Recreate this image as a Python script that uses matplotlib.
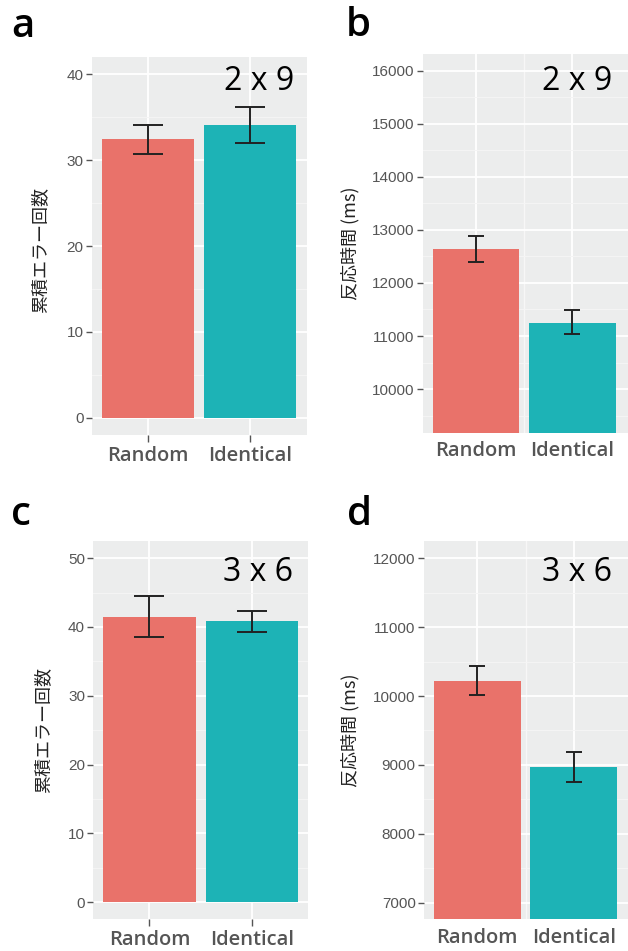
import matplotlib
matplotlib.use('Agg')
import matplotlib.pyplot as plt
from matplotlib.ticker import MultipleLocator
import numpy as np

categories = ['Random', 'Identical']
bar_colors = ['#E9726A', '#1DB3B6']

# panel a: 2 x 9 cumulative errors
err_2x9 = [32.4, 34.1]
err_2x9_lo = [30.7, 32.0]
err_2x9_hi = [34.1, 36.2]
# panel b: 2 x 9 reaction time (ms)
rt_2x9 = [12640, 11250]
rt_2x9_lo = [12400, 11030]
rt_2x9_hi = [12880, 11490]
# panel c: 3 x 6 cumulative errors
err_3x6 = [41.5, 40.8]
err_3x6_lo = [38.5, 39.3]
err_3x6_hi = [44.5, 42.3]
# panel d: 3 x 6 reaction time (ms)
rt_3x6 = [10220, 8965]
rt_3x6_lo = [10010, 8755]
rt_3x6_hi = [10435, 9190]

W, H = 628, 951
fig = plt.figure(figsize=(W / 100, H / 100), dpi=100)

def fx(px):
    return px / W

def fy(py):
    return 1 - py / H

panels = [
    dict(letter='a', vals=err_2x9, lo=err_2x9_lo, hi=err_2x9_hi,
         box=(92, 57, 307, 435), ylim=(-2.0, 42.0), xlim=(0.45, 2.56),
         major=10, minor=5, xticks=True, cap=11, ylabel='累積エラー回数',
         ylab_xy=(40, 250), letter_xy=(11, 37), ann='2 x 9', ann_xy=(294, 90),
         vminor=False),
    dict(letter='b', vals=rt_2x9, lo=rt_2x9_lo, hi=rt_2x9_hi,
         box=(422.7, 54.3, 628, 432.7), ylim=(9176, 16314), xlim=(0.442, 2.58),
         major=1000, minor=500, xticks=False, cap=5.5, ylabel='反応時間 (ms)',
         ylab_xy=(350, 243), letter_xy=(346, 36), ann='2 x 9', ann_xy=(612, 90),
         vminor=True),
    dict(letter='c', vals=err_3x6, lo=err_3x6_lo, hi=err_3x6_hi,
         box=(93.3, 541, 308, 919.3), ylim=(-2.5, 52.5), xlim=(0.453, 2.543),
         major=10, minor=5, xticks=True, cap=11, ylabel='累積エラー回数',
         ylab_xy=(43.5, 730), letter_xy=(11, 525), ann='3 x 6', ann_xy=(293, 581),
         vminor=False),
    dict(letter='d', vals=rt_3x6, lo=rt_3x6_lo, hi=rt_3x6_hi,
         box=(424, 541, 628, 919.3), ylim=(6758, 12252), xlim=(0.448, 2.56),
         major=1000, minor=500, xticks=False, cap=5.5, ylabel='反応時間 (ms)',
         ylab_xy=(350, 730), letter_xy=(347, 525), ann='3 x 6', ann_xy=(612, 581),
         vminor=True),
]

x = np.array([1, 2])
for p in panels:
    l, t, r, b = p['box']
    ax = fig.add_axes([fx(l), fy(b), fx(r) - fx(l), (b - t) / H])
    ax.set_facecolor('#ECEDED')
    for s in ax.spines.values():
        s.set_visible(False)
    ax.set_xlim(*p['xlim'])
    ax.set_ylim(*p['ylim'])
    ax.yaxis.set_major_locator(MultipleLocator(p['major']))
    ax.yaxis.set_minor_locator(MultipleLocator(p['minor']))
    ax.set_axisbelow(True)
    ax.grid(True, which='major', axis='both', color='white', lw=1.3)
    ax.grid(True, which='minor', axis='y', color='#F5F5F5', lw=0.7)
    if p['vminor']:
        ax.set_xticks([1.5], minor=True)
        ax.grid(True, which='minor', axis='x', color='#F7F7F7', lw=1.0)
    ax.tick_params(axis='x', which='minor', length=0)
    ax.tick_params(axis='y', which='minor', length=0)

    vals = np.array(p['vals'])
    lo = np.array(p['lo'])
    hi = np.array(p['hi'])
    ax.bar(x, vals, width=0.9, color=bar_colors, zorder=2)
    ax.errorbar(x, vals, yerr=[vals - lo, hi - vals], fmt='none',
                ecolor='#222222', elinewidth=1.4, capsize=p['cap'],
                capthick=1.4, zorder=3)

    ax.set_xticks(x)
    ax.set_xticklabels(categories, fontsize=14.5, family='Open Sans',
                       fontweight='semibold', color='#555555')
    ax.tick_params(axis='x', which='major', length=5 if p['xticks'] else 0,
                   width=1, color='#555555', pad=3 if p['xticks'] else 6)
    ax.tick_params(axis='y', which='major', length=4, width=1,
                   color='#555555', labelcolor='#555555', labelsize=11, pad=2)
    for lab in ax.get_yticklabels():
        lab.set_family('Liberation Sans')

    fig.text(fx(p['ylab_xy'][0]), fy(p['ylab_xy'][1]), p['ylabel'],
             rotation=90, ha='center', va='center', fontsize=13,
             color='#222222', family=['Noto Sans CJK JP', 'DejaVu Sans'])
    fig.text(fx(p['letter_xy'][0]), fy(p['letter_xy'][1]), p['letter'],
             ha='left', va='baseline', fontsize=29, family='Open Sans',
             fontweight='semibold', color='black')
    fig.text(fx(p['ann_xy'][0]), fy(p['ann_xy'][1]), p['ann'],
             ha='right', va='baseline', fontsize=23, family='Open Sans',
             color='black')

fig.savefig('out.png', dpi=100, facecolor='white')
